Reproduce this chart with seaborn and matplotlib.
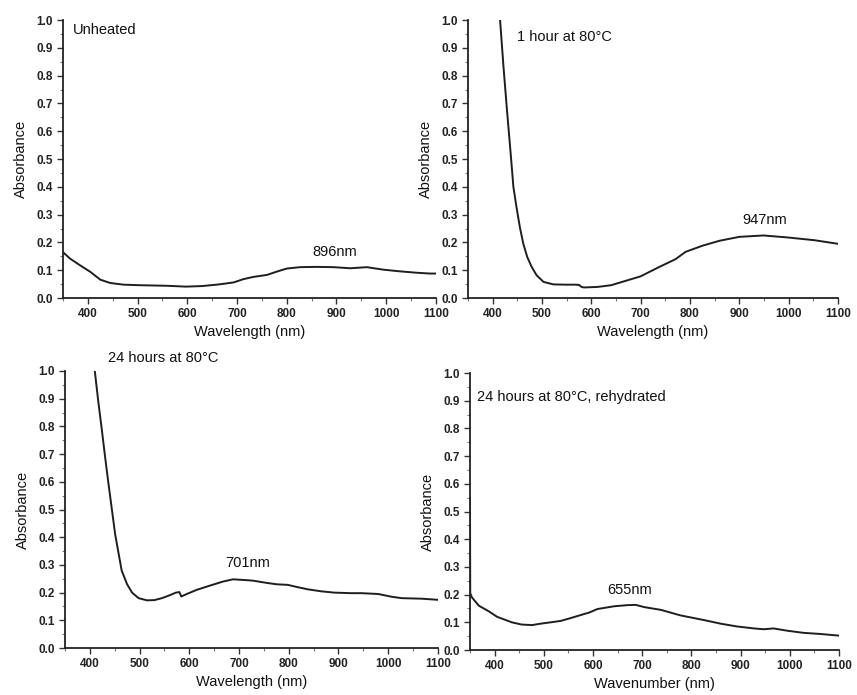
import numpy as np
import pandas as pd
import matplotlib
matplotlib.use("Agg")
import matplotlib.pyplot as plt
from matplotlib.ticker import MultipleLocator
import seaborn as sns

# Spectra (wavelength nm, absorbance)
unheated_nm = [350, 353, 364, 384, 405, 425, 445, 472, 506, 559, 597, 630, 664, 693, 713,
               733, 760, 780, 800, 827, 860, 894, 928, 961, 994, 1027, 1061, 1088, 1100]
unheated_abs = [0.165, 0.16, 0.142, 0.118, 0.094, 0.066, 0.054, 0.048, 0.046, 0.044, 0.041, 0.043,
                0.049, 0.056, 0.068, 0.076, 0.083, 0.095, 0.106, 0.111, 0.112, 0.111, 0.107, 0.111,
                0.102, 0.096, 0.091, 0.088, 0.088]

hour1_nm = [415, 422, 429, 436, 442, 448, 455, 462, 470, 479, 489, 503, 523, 548, 568, 575,
            580, 585, 600, 613, 640, 670, 700, 738, 771, 791, 825, 860, 900, 949, 997, 1052, 1100]
hour1_abs = [1.0, 0.83, 0.676, 0.53, 0.40, 0.33, 0.256, 0.196, 0.148, 0.112, 0.082, 0.058,
             0.049, 0.048, 0.048, 0.047, 0.04, 0.038, 0.039, 0.04, 0.046, 0.062, 0.078, 0.112,
             0.14, 0.166, 0.188, 0.206, 0.22, 0.225, 0.218, 0.208, 0.195]

hour24_nm = [410, 417, 424, 430, 437, 444, 451, 458, 464, 475, 485, 498, 515, 530, 545, 560,
             573, 580, 584, 595, 615, 641, 668, 688, 715, 729, 756, 776, 798, 817, 838, 864,
             891, 925, 946, 980, 1007, 1027, 1068, 1100]
hour24_abs = [1.0, 0.89, 0.79, 0.70, 0.60, 0.505, 0.41, 0.34, 0.28, 0.23, 0.2, 0.18, 0.172,
              0.173, 0.18, 0.19, 0.2, 0.202, 0.186, 0.195, 0.21, 0.225, 0.24, 0.248, 0.245,
              0.243, 0.235, 0.23, 0.228, 0.22, 0.212, 0.205, 0.2, 0.198, 0.198, 0.195, 0.185,
              0.18, 0.178, 0.174]

rehyd_nm = [350, 350.5, 354, 368, 388, 405, 435, 455, 476, 493, 514, 534, 554, 582, 592, 609,
            643, 670, 687, 704, 738, 758, 778, 792, 826, 860, 893, 927, 947, 967, 994, 1028,
            1062, 1100]
rehyd_abs = [0.55, 0.205, 0.19, 0.16, 0.14, 0.12, 0.1, 0.092, 0.09, 0.095, 0.1, 0.105, 0.115,
             0.13, 0.135, 0.148, 0.158, 0.162, 0.163, 0.155, 0.145, 0.135, 0.125, 0.12, 0.108,
             0.095, 0.085, 0.078, 0.075, 0.078, 0.07, 0.062, 0.058, 0.052]

panels = [
    dict(nm=unheated_nm, ab=unheated_abs, title="Unheated", tx=370, ty=0.965,
         peak="896nm", px=897, py=0.165, xlabel="Wavelength (nm)",
         rect=[0.0735, 0.5712, 0.4352, 0.4]),
    dict(nm=hour1_nm, ab=hour1_abs, title="1 hour at 80°C", tx=449, ty=0.94,
         peak="947nm", px=952, py=0.28, xlabel="Wavelength (nm)",
         rect=[0.5461, 0.5712, 0.4317, 0.4]),
    dict(nm=hour24_nm, ab=hour24_abs, title="24 hours at 80°C", tx=436, ty=1.047,
         peak="701nm", px=718, py=0.307, xlabel="Wavelength (nm)",
         rect=[0.0758, 0.0676, 0.4352, 0.3986]),
    dict(nm=rehyd_nm, ab=rehyd_abs, title="24 hours at 80°C, rehydrated", tx=364,
         ty=0.913, peak="655nm", px=675, py=0.217, xlabel="Wavenumber (nm)",
         rect=[0.5484, 0.0647, 0.4306, 0.3986]),
]

sns.set_style("ticks")
plt.rcParams["font.family"] = ["Liberation Sans", "DejaVu Sans"]

fig = plt.figure(figsize=(8.57, 6.95), dpi=100)

for p in panels:
    ax = fig.add_axes(p["rect"])
    df = pd.DataFrame({"Wavelength": p["nm"], "Absorbance": p["ab"]})
    sns.lineplot(data=df, x="Wavelength", y="Absorbance", ax=ax, color="#1e1e1e",
                 linewidth=1.4, sort=False)
    ax.set_xlim(350, 1100)
    ax.set_ylim(0, 1.0)
    ax.xaxis.set_minor_locator(MultipleLocator(50))
    ax.yaxis.set_minor_locator(MultipleLocator(0.05))
    ax.set_xticks(range(400, 1101, 100))
    ax.set_yticks(np.arange(0, 1.01, 0.1))
    ax.set_yticklabels([f"{v:.1f}" for v in np.arange(0, 1.01, 0.1)])
    ax.tick_params(axis="both", which="major", direction="out", length=4, width=1,
                   labelsize=8.5, color="#333333")
    ax.tick_params(axis="both", which="minor", direction="out", length=2, width=0.8,
                   color="#777777")
    for lab in ax.get_xticklabels() + ax.get_yticklabels():
        lab.set_fontweight("bold")
        lab.set_color("#222222")
    for side in ["top", "right"]:
        ax.spines[side].set_visible(False)
    for side in ["left", "bottom"]:
        ax.spines[side].set_linewidth(1.3)
        ax.spines[side].set_color("#222222")
    ax.set_xlabel(p["xlabel"], fontsize=10.5, labelpad=3, color="#111111")
    ax.set_ylabel("Absorbance", fontsize=10.5, labelpad=6, color="#111111")
    ax.text(p["tx"], p["ty"], p["title"], fontsize=10.5, ha="left", va="center",
            color="#111111", clip_on=False)
    ax.text(p["px"], p["py"], p["peak"], fontsize=10.5, ha="center", va="center",
            color="#111111")

fig.savefig("out.png", dpi=100)
